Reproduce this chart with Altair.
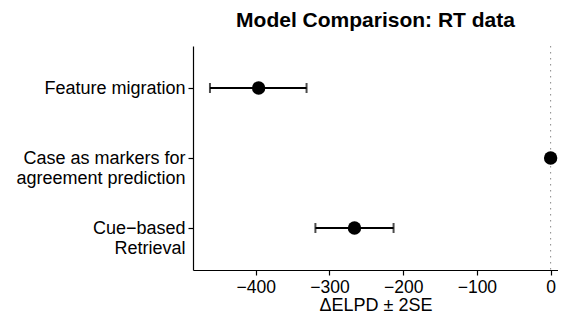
import altair as alt
import pandas as pd

models = ["Feature migration", "Case as markers for\nagreement prediction", "Cue\u2212based\nRetrieval"]
elpd = [-396, 0, -266]
lower = [-462, 0, -319]
upper = [-331, 0, -213]

df = pd.DataFrame({"model": models, "elpd": elpd, "lower": lower, "upper": upper})

FONT = "Liberation Sans"
xscale = alt.Scale(domain=[-485, 10], nice=False, zero=False, padding=0)
yscale = alt.Scale(domain=models, type="point", padding=0.6)

y_enc = alt.Y("model:N", scale=yscale, sort=models,
              axis=alt.Axis(title=None, labelExpr="split(datum.label, '\\n')",
                            labelLineHeight=20, labelFontSize=18, labelColor="black",
                            labelFont=FONT, tickSize=5, tickColor="black", tickWidth=1.2,
                            domainColor="black", domainWidth=1.2, labelPadding=3,
                            grid=False))
x_axis = alt.Axis(title="\u0394ELPD \u00b1 2SE", titleFontSize=18, titleFont=FONT,
                  titleFontWeight="normal", titleColor="black", titlePadding=1,
                  labelFontSize=17.5, labelFont=FONT, labelColor="black",
                  values=[-400, -300, -200, -100, 0], tickSize=5, tickColor="black",
                  tickWidth=1.2, domainColor="black", domainWidth=1.2, labelPadding=3,
                  grid=False)

base = alt.Chart(df)

zero_line = alt.Chart(pd.DataFrame({"z": [0]})).mark_rule(
    color="#888888", strokeDash=[1.5, 4.5], strokeWidth=1
).encode(x=alt.X("z:Q", scale=xscale, axis=x_axis))

bars = base.mark_rule(color="black", strokeWidth=2).encode(
    x=alt.X("lower:Q", scale=xscale, axis=x_axis), x2="upper:Q", y=y_enc)

caps_l = base.mark_tick(color="black", orient="vertical", size=10, thickness=2).encode(
    x=alt.X("lower:Q", scale=xscale), y=alt.Y("model:N", scale=yscale, sort=models))
caps_u = base.mark_tick(color="black", orient="vertical", size=10, thickness=2).encode(
    x=alt.X("upper:Q", scale=xscale), y=alt.Y("model:N", scale=yscale, sort=models))

points = base.mark_point(filled=True, color="black", size=180, opacity=1).encode(
    x=alt.X("elpd:Q", scale=xscale), y=alt.Y("model:N", scale=yscale, sort=models))

chart = alt.layer(zero_line, bars, caps_l, caps_u, points).properties(
    width=365, height=224,
    autosize=alt.AutoSizeParams(type="none"),
    padding={"left": 185, "top": 38, "right": 0, "bottom": 48},
    title=alt.TitleParams("Model Comparison: RT data", font=FONT, fontSize=21,
                          fontWeight="bold", color="black", anchor="middle",
                          frame="group", baseline="alphabetic", offset=-2),
).configure_view(stroke=None)

chart.save("out.html", embed_options={"renderer": "svg", "actions": False})
